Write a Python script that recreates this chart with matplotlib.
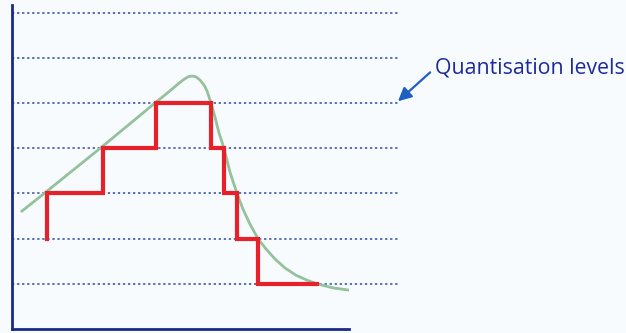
import matplotlib.pyplot as plt

# quantisation levels (level index)
levels = [1, 2, 3, 4, 5, 6, 7]

# analogue signal (x position, level units)
sig_x = [10, 35, 91, 144, 153, 160, 166, 171, 176, 180, 184, 188, 192, 195, 199,
         203, 207, 212, 218, 225, 231, 238, 246, 254, 263, 273, 284, 295, 305,
         321, 337]
sig_y = [2.61, 3.05, 4.05, 5.02, 5.18, 5.31, 5.42, 5.51, 5.58, 5.60, 5.58, 5.51,
         5.40, 5.27, 5.0, 4.69, 4.34, 4.0, 3.47, 3.0, 2.65, 2.32, 2.0, 1.77,
         1.55, 1.35, 1.19, 1.08, 1.0, 0.91, 0.86]

# quantised signal staircase vertices
q_x = [35, 35, 91, 91, 144, 144, 199, 199, 212, 212, 225, 225, 246, 246, 305]
q_y = [2, 3, 3, 4, 4, 5, 5, 4, 4, 3, 3, 2, 2, 1, 1]

bg = "#f8fbfd"
fig = plt.figure(figsize=(6.26, 3.33), dpi=100, facecolor=bg)
ax = fig.add_axes([12/626, 4/333, 337/626, 324/333], facecolor=bg)

for lv in levels:
    ax.plot([0, 386], [lv, lv], color="#2a4aa8", lw=1.1,
            linestyle=(0, (1.5, 1.8)), clip_on=False, zorder=1)

ax.plot(sig_x, sig_y, color="#93c29c", lw=2, zorder=2)
ax.plot(q_x, q_y, color="#e8202a", lw=3, zorder=3, solid_joinstyle="miter")

ax.set_xlim(0, 337)
ax.set_ylim(0, 7.17)
ax.set_xticks([])
ax.set_yticks([])
for s in ["top", "right"]:
    ax.spines[s].set_visible(False)
for s in ["left", "bottom"]:
    ax.spines[s].set_color("#1a2a8a")
    ax.spines[s].set_linewidth(2)

ax.annotate("Quantisation levels", xy=(386, 5.04), xycoords="data",
            xytext=(435, 333 - 68), textcoords="figure pixels",
            ha="left", va="center", fontsize=15.3, family="Open Sans",
            color="#1c2a9a", annotation_clip=False,
            arrowprops=dict(arrowstyle="-|>", color="#1f5fc0", lw=1.6,
                            mutation_scale=20, shrinkA=2, shrinkB=0,
                            relpos=(0, 0.5)))

fig.savefig("out.png", dpi=100, facecolor=bg)
